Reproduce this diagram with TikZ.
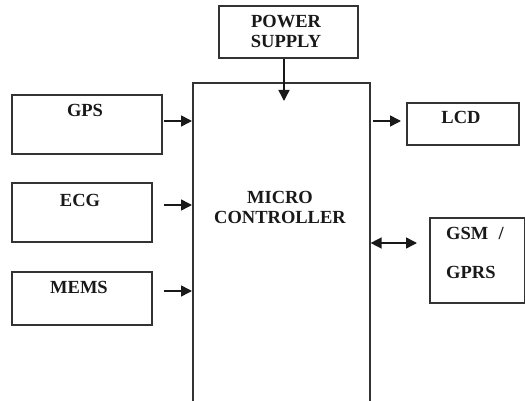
\documentclass[tikz,border=0pt]{standalone}
\usepackage{fontspec}
\setmainfont{Liberation Serif}
\usetikzlibrary{arrows.meta}
\begin{document}
\begin{tikzpicture}[x=1pt,y=-1pt,
  box/.style={draw=black!80, line width=1.6pt, inner sep=0pt, anchor=north west},
  lbl/.style={font=\fontsize{18.5}{20}\selectfont\bfseries, text=black!90, align=center, inner sep=0pt},
  arr/.style={line width=1.5pt, draw=black!90, -{Triangle[length=11pt,width=11pt]}},
  darr/.style={line width=1.5pt, draw=black!90, {Triangle[length=11pt,width=11pt]}-{Triangle[length=11pt,width=11pt]}}]
\useasboundingbox (0,0) rectangle (525,401);
\clip (0,0) rectangle (525,401);
% boxes
\node[box, minimum width=139pt, minimum height=52pt] (ps) at (218,5) {};
\node[box, minimum width=177pt, minimum height=340pt] (mc) at (192,82) {};
\node[box, minimum width=150pt, minimum height=59pt] (gps) at (11,94) {};
\node[box, minimum width=140pt, minimum height=59pt] (ecg) at (11,182) {};
\node[box, minimum width=140pt, minimum height=53pt] (mems) at (11,271) {};
\node[box, minimum width=112pt, minimum height=42pt] (lcd) at (406,102) {};
\node[box, minimum width=95pt, minimum height=85pt] (gsm) at (429,217) {};
% labels
\node[lbl] (tps) at (286,31) {POWER\\SUPPLY};
\node[lbl] (tmc) at (280,207) {MICRO\\CONTROLLER};
\node[lbl] (tgps) at (85,110) {GPS};
\node[lbl] (tecg) at (80,200) {ECG};
\node[lbl] (tmems) at (79,287) {MEMS};
\node[lbl] (tlcd) at (461,117) {LCD};
\node[lbl, anchor=west] (tgsm) at (446,233) {GSM\hspace{0.55em}/};
\node[lbl, anchor=west] (tgprs) at (446,272) {GPRS};
% connectors
\coordinate (pend) at (284,101);
\draw[arr] (ps.south -| pend) -- (pend);
\coordinate (g0) at (164,121);
\coordinate (e0) at (164,205);
\coordinate (m0) at (164,291);
\draw[arr] (g0) -- (g0 -| mc.west);
\draw[arr] (e0) -- (e0 -| mc.west);
\draw[arr] (m0) -- (m0 -| mc.west);
\coordinate (l0) at (373,121);
\coordinate (l1) at (401,121);
\draw[arr] (l0) -- (l1);
\coordinate (s1) at (417,243);
\draw[darr] (s1 -| mc.east) -- (s1);
\end{tikzpicture}
\end{document}
